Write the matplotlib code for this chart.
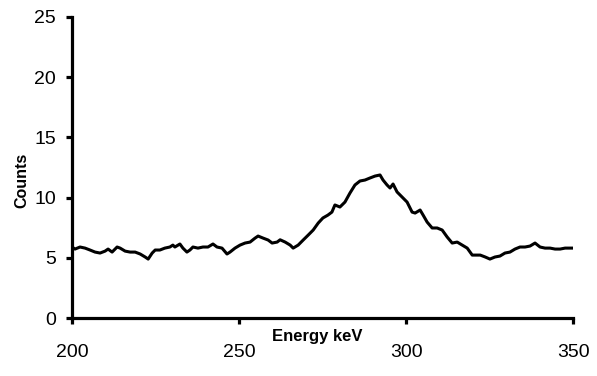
import matplotlib
matplotlib.use("Agg")
import matplotlib.pyplot as plt

plt.rcParams['font.family'] = ['Liberation Sans', 'DejaVu Sans']

# spectrum (energy in keV, counts)
energy = [200.0, 200.9, 202.4, 203.9, 205.4, 206.9, 208.4, 209.9, 210.8, 212.0,
          213.5, 214.4, 215.9, 217.4, 218.9, 220.4, 221.9, 222.8, 224.0, 224.9,
          226.3, 227.8, 229.3, 230.2, 230.8, 232.3, 233.2, 234.4, 235.3, 236.2,
          237.7, 239.2, 240.7, 242.2, 243.4, 244.9, 246.4, 247.3, 248.8, 250.3,
          251.8, 253.3, 254.8, 255.7, 257.2, 258.7, 259.9, 261.4, 262.3, 263.8,
          265.3, 266.2, 267.7, 269.2, 270.7, 272.2, 273.7, 275.1, 276.6, 277.8,
          278.7, 280.2, 281.7, 283.2, 284.7, 286.2, 287.7, 289.2, 290.7, 292.2,
          293.1, 294.3, 295.2, 296.1, 297.3, 298.8, 300.3, 301.8, 302.7, 304.2,
          305.1, 306.3, 307.8, 309.3, 310.8, 312.3, 313.8, 315.3, 316.8, 318.3,
          319.8, 321.3, 322.2, 323.7, 325.1, 326.6, 328.1, 329.6, 331.1, 332.6,
          334.1, 335.6, 337.1, 338.6, 340.1, 341.6, 343.1, 344.6, 346.1, 347.6,
          349.1, 349.7]
counts = [5.90, 5.73, 5.90, 5.81, 5.65, 5.48, 5.40, 5.56, 5.73, 5.48,
          5.90, 5.81, 5.56, 5.48, 5.48, 5.32, 5.07, 4.90, 5.40, 5.65,
          5.65, 5.81, 5.90, 6.06, 5.90, 6.15, 5.81, 5.48, 5.65, 5.90,
          5.81, 5.90, 5.90, 6.15, 5.90, 5.81, 5.32, 5.48, 5.81, 6.06,
          6.23, 6.31, 6.64, 6.81, 6.64, 6.48, 6.23, 6.31, 6.50, 6.31,
          6.06, 5.81, 6.06, 6.48, 6.89, 7.31, 7.89, 8.31, 8.55, 8.80,
          9.39, 9.22, 9.63, 10.38, 11.05, 11.38, 11.46, 11.63, 11.79, 11.88,
          11.46, 11.05, 10.80, 11.13, 10.47, 10.05, 9.63, 8.80, 8.72, 8.97,
          8.55, 7.97, 7.48, 7.48, 7.31, 6.73, 6.23, 6.31, 6.06, 5.81,
          5.23, 5.23, 5.23, 5.07, 4.90, 5.07, 5.15, 5.40, 5.48, 5.73,
          5.90, 5.90, 5.98, 6.23, 5.90, 5.81, 5.81, 5.73, 5.73, 5.81,
          5.81, 5.81]

xticks = [200, 250, 300, 350]
yticks = [0, 5, 10, 15, 20, 25]

fig = plt.figure(figsize=(5.97, 3.76), dpi=100)
ax = fig.add_axes([0.1206, 0.154, 0.8394, 0.801])

ax.plot(energy, counts, color='black', lw=2.2)

ax.set_xlim(200, 350)
ax.set_ylim(0, 25)
ax.set_xticks(xticks)
ax.set_yticks(yticks)

for side in ['top', 'right']:
    ax.spines[side].set_visible(False)
for side in ['left', 'bottom']:
    ax.spines[side].set_linewidth(2.3)
ax.tick_params(axis='both', direction='out', length=4.5, width=2.3, labelsize=14)
ax.tick_params(axis='x', pad=14)
ax.tick_params(axis='y', pad=7)

ax.set_xlabel('Energy keV', fontsize=12, fontweight='bold')
ax.xaxis.set_label_coords(0.49, -0.036)
ax.set_ylabel('Counts', fontsize=11.5, fontweight='bold')
ax.yaxis.set_label_coords(-0.085, 0.458)

fig.savefig('out.png', dpi=100)
